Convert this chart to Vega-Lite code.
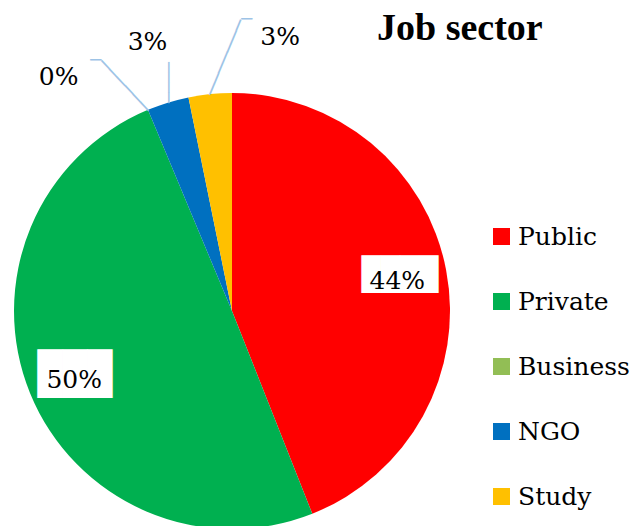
{
  "$schema": "https://vega.github.io/schema/vega-lite/v6.json",
  "width": 635,
  "height": 526,
  "autosize": "none",
  "padding": 0,
  "background": "white",
  "config": {"view": {"stroke": null}},
  "title": {
    "text": "Job sector",
    "anchor": "start",
    "frame": "group",
    "orient": "top",
    "offset": -78,
    "dx": 377,
    "font": "Liberation Serif",
    "fontSize": 38,
    "fontWeight": "bold",
    "color": "black",
    "baseline": "alphabetic"
  },
  "data": {
    "values": [
      {"sector": "Public", "pct": 0.44, "idx": 1},
      {"sector": "Private", "pct": 0.497, "idx": 2},
      {"sector": "Business", "pct": 0.0, "idx": 3},
      {"sector": "NGO", "pct": 0.031, "idx": 4},
      {"sector": "Study", "pct": 0.032, "idx": 5}
    ]
  },
  "encoding": {
    "theta": {"field": "pct", "type": "quantitative", "stack": true},
    "order": {"field": "idx", "type": "quantitative"},
    "detail": {"field": "sector", "type": "nominal"}
  },
  "layer": [
    {
      "mark": {"type": "arc", "x": 232, "y": 311, "outerRadius": 218},
      "encoding": {
        "color": {
          "field": "sector",
          "type": "nominal",
          "scale": {
            "domain": ["Public", "Private", "Business", "NGO", "Study"],
            "range": ["#FF0000", "#00B050", "#92BE55", "#0070C0", "#FFC000"]
          },
          "legend": {
            "orient": "none",
            "legendX": 489,
            "legendY": 224,
            "title": null,
            "symbolType": "square",
            "symbolSize": 290,
            "symbolStrokeWidth": 0,
            "symbolOpacity": 1,
            "labelFont": "DejaVu Serif",
            "labelFontSize": 25,
            "labelColor": "black",
            "labelOffset": 4,
            "labelLimit": 200,
            "rowPadding": 39,
            "padding": 0
          }
        }
      }
    },
    {
      "mark": {"type": "text", "x": 232, "y": 311, "radius": 170, "dx": 0.8, "dy": -4.1, "font": "DejaVu Sans Mono", "fontSize": 31.8, "align": "center", "baseline": "middle", "color": "white"},
      "encoding": {"text": {"condition": {"test": "datum.sector === 'Public'", "value": "████"}, "value": ""}}
    },
    {
      "mark": {"type": "text", "x": 232, "y": 311, "radius": 170, "dx": 0.5, "dy": 0.9, "font": "DejaVu Sans Mono", "fontSize": 41.2, "align": "center", "baseline": "middle", "color": "white"},
      "encoding": {"text": {"condition": {"test": "datum.sector === 'Private'", "value": "███"}, "value": ""}}
    },
    {
      "mark": {"type": "text", "x": 232, "y": 311, "radius": 170, "dx": -1.7, "dy": 9.9, "font": "DejaVu Serif", "fontSize": 25, "align": "center", "baseline": "alphabetic", "color": "black"},
      "encoding": {"text": {"condition": {"test": "datum.sector === 'Public'", "field": "pct", "type": "quantitative", "format": ".0%"}, "value": ""}}
    },
    {
      "mark": {"type": "text", "x": 232, "y": 311, "radius": 170, "dx": -0.3, "dy": 12.7, "font": "DejaVu Serif", "fontSize": 25, "align": "center", "baseline": "alphabetic", "color": "black"},
      "encoding": {"text": {"condition": {"test": "datum.sector === 'Private'", "field": "pct", "type": "quantitative", "format": ".0%"}, "value": ""}}
    },
    {
      "mark": {"type": "text", "x": 232, "y": 311, "radius": 250, "dx": -77, "dy": 4.7, "font": "DejaVu Serif", "fontSize": 25, "align": "center", "baseline": "alphabetic", "color": "black"},
      "encoding": {"text": {"condition": {"test": "datum.sector === 'Business'", "field": "pct", "type": "quantitative", "format": ".0%"}, "value": ""}}
    },
    {
      "mark": {"type": "text", "x": 232, "y": 311, "radius": 270, "dx": -5.1, "dy": -2.9, "font": "DejaVu Serif", "fontSize": 25, "align": "center", "baseline": "alphabetic", "color": "black"},
      "encoding": {"text": {"condition": {"test": "datum.sector === 'NGO'", "field": "pct", "type": "quantitative", "format": ".0%"}, "value": ""}}
    },
    {
      "mark": {"type": "text", "x": 232, "y": 311, "radius": 270, "dx": 75.3, "dy": 2.6, "font": "DejaVu Serif", "fontSize": 25, "align": "center", "baseline": "alphabetic", "color": "black"},
      "encoding": {"text": {"condition": {"test": "datum.sector === 'Study'", "field": "pct", "type": "quantitative", "format": ".0%"}, "value": ""}}
    },
    {
      "mark": {"type": "text", "x": 232, "y": 311, "radius": 252.9, "angle": -67.5, "dx": 9.07, "dy": 16.9, "font": "DejaVu Sans Mono", "fontSize": 19.25, "align": "center", "baseline": "middle", "color": "#9DC3E6"},
      "encoding": {"text": {"condition": {"test": "datum.sector === 'Study'", "value": "───────"}, "value": ""}}
    },
    {
      "mark": {"type": "text", "x": 232, "y": 311, "radius": 288, "angle": 0, "dx": 43.6, "dy": -4.5, "font": "DejaVu Sans Mono", "fontSize": 18.3, "align": "center", "baseline": "middle", "color": "#9DC3E6"},
      "encoding": {"text": {"condition": {"test": "datum.sector === 'Study'", "value": "─"}, "value": ""}}
    },
    {
      "mark": {"type": "text", "x": 232, "y": 311, "radius": 237.2, "angle": 90, "dx": -1.8, "dy": -5.7, "font": "DejaVu Sans Mono", "fontSize": 17, "align": "center", "baseline": "middle", "color": "#9DC3E6"},
      "encoding": {"text": {"condition": {"test": "datum.sector === 'NGO'", "value": "────"}, "value": ""}}
    },
    {
      "mark": {"type": "text", "x": 232, "y": 311, "radius": 249.1, "angle": 46.8, "dx": -4.3, "dy": 11.6, "font": "DejaVu Sans Mono", "fontSize": 19, "align": "center", "baseline": "middle", "color": "#9DC3E6"},
      "encoding": {"text": {"condition": {"test": "datum.sector === 'Business'", "value": "──────"}, "value": ""}}
    },
    {
      "mark": {"type": "text", "x": 232, "y": 311, "radius": 283.4, "angle": 0, "dx": -27.1, "dy": 11.5, "font": "DejaVu Sans Mono", "fontSize": 18.3, "align": "center", "baseline": "middle", "color": "#9DC3E6"},
      "encoding": {"text": {"condition": {"test": "datum.sector === 'Business'", "value": "─"}, "value": ""}}
    }
  ]
}
